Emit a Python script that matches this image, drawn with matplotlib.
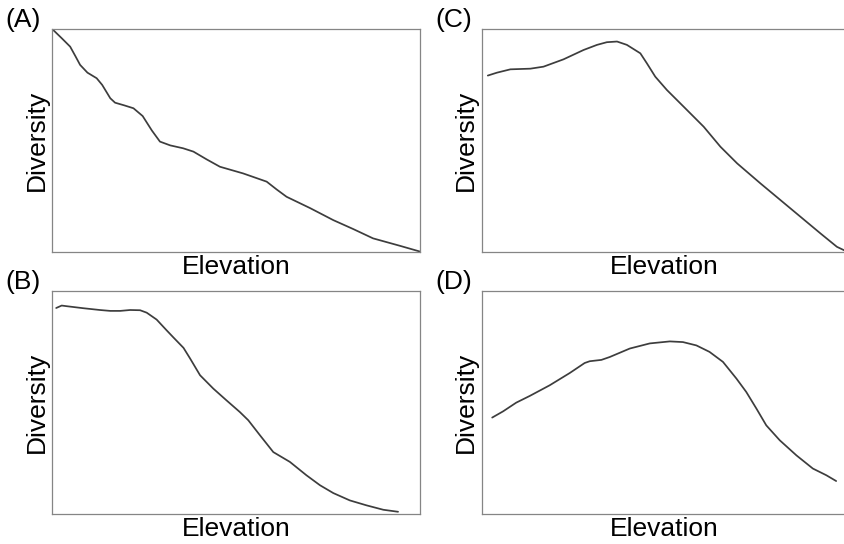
import matplotlib
matplotlib.use("Agg")
import matplotlib.pyplot as plt

# ---- data (axes scaled 0..100) ----
a_x = [0, 2.5, 4.8, 6.2, 7.5, 9.5, 12.0, 13.5, 15.7, 17.0, 19.5, 22.0, 24.5, 27.0, 29.2, 32.0, 35.5, 38.3, 41.9, 45.5, 51.8, 58.2, 60.9, 63.6, 70.0, 76.3, 81.7, 87.1, 94.3, 100]
a_y = [100, 96.0, 92.2, 88.0, 84.0, 80.5, 78.0, 75.0, 69.0, 67.0, 65.8, 64.5, 61.0, 54.5, 49.5, 47.8, 46.5, 45.0, 41.5, 38.2, 35.2, 31.5, 28.0, 24.7, 19.6, 14.2, 10.2, 6.0, 2.7, 0]

b_x = [1.0, 2.5, 3.9, 8.4, 12.9, 15.7, 18.4, 21.1, 23.8, 25.6, 28.3, 31.0, 32.9, 35.6, 37.4, 40.1, 43.7, 47.3, 50.9, 53.2, 56.4, 60.0, 64.5, 69.0, 72.7, 76.3, 80.8, 85.3, 89.9, 93.9]
b_y = [92.5, 93.6, 93.3, 92.4, 91.6, 91.2, 91.2, 91.6, 91.5, 90.4, 87.3, 82.5, 79.2, 74.6, 69.8, 62.3, 56.3, 51.0, 45.8, 42.1, 35.3, 27.8, 23.4, 17.4, 12.9, 9.4, 6.1, 3.9, 1.9, 1.0]

c_x = [1.6, 4.1, 7.8, 13.3, 16.9, 22.4, 27.9, 31.6, 34.3, 37.1, 39.8, 43.5, 45.3, 47.6, 50.8, 55.4, 60.9, 65.5, 70.1, 76.5, 82.0, 87.5, 93.0, 97.5, 99.8]
c_y = [79.2, 80.5, 82.0, 82.3, 83.2, 86.5, 90.7, 93.0, 94.2, 94.5, 93.0, 89.2, 84.7, 78.7, 72.7, 65.2, 56.2, 47.2, 39.7, 30.7, 23.2, 15.7, 8.2, 2.2, 0.4]

d_x = [2.8, 5.8, 9.4, 13.1, 18.6, 24.1, 28.2, 29.6, 32.8, 35.1, 40.6, 46.1, 51.6, 55.2, 58.9, 62.5, 66.2, 69.9, 72.6, 75.4, 78.1, 81.8, 86.4, 90.9, 94.6, 97.3]
d_y = [43.3, 46.1, 50.0, 53.0, 57.8, 63.3, 67.8, 68.6, 69.2, 70.5, 74.3, 76.6, 77.5, 77.2, 75.7, 72.8, 68.3, 60.8, 54.8, 47.3, 39.8, 33.1, 26.3, 20.4, 17.4, 14.8]

panel_labels = ["(A)", "(B)", "(C)", "(D)"]
x_label = "Elevation"
y_label = "Diversity"

W, H = 845, 544
plt.rcParams['font.family'] = ['Liberation Sans', 'DejaVu Sans']
fig = plt.figure(figsize=(W / 100, H / 100), dpi=100)

# axes boxes in pixels: left, right, top, bottom
boxes = {
    "A": (52.5, 420.5, 29.3, 251.7),
    "B": (52.5, 420.5, 291.3, 514.0),
    "C": (482.0, 846.0, 29.3, 251.7),
    "D": (482.0, 846.0, 291.3, 514.0),
}
series = {"A": (a_x, a_y), "B": (b_x, b_y), "C": (c_x, c_y), "D": (d_x, d_y)}

FS = 19
line_col = "#3d3d3d"
spine_col = "#858585"

for i, key in enumerate(["A", "B", "C", "D"]):
    l, r, t, b = boxes[key]
    ax = fig.add_axes([l / W, 1 - b / H, (r - l) / W, (b - t) / H])
    xs, ys = series[key]
    ax.plot(xs, ys, color=line_col, lw=1.25, solid_capstyle='round')
    ax.set_xlim(0, 100)
    ax.set_ylim(0, 100)
    ax.set_xticks([])
    ax.set_yticks([])
    for s in ax.spines.values():
        s.set_color(spine_col)
        s.set_linewidth(0.9)
    # x label (baseline ~22.5 px below axes bottom)
    fig.text(((l + r) / 2) / W, 1 - (b + 22.5) / H, x_label, ha='center', va='baseline', fontsize=FS)
    # y label (baseline ~9 px left of axes)
    fig.text((l - 9) / W, 1 - ((t + b) / 2) / H, y_label, rotation=90, rotation_mode='anchor',
             ha='center', va='baseline', fontsize=FS)
    # panel label
    fig.text((l - 47) / W, 1 - (t - 1.8) / H, panel_labels[i], ha='left', va='baseline', fontsize=FS)

fig.savefig("out.png", dpi=100)
